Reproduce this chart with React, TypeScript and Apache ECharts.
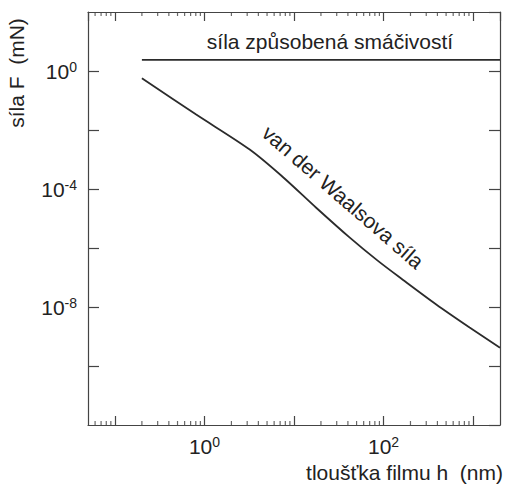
import React, { useEffect, useRef } from "react";
import * as echarts from "echarts";

// ---- data ----
const vdwH = [0.2, 0.8, 3.2, 7.5, 17.7, 41.7, 86, 164, 388, 915, 2000];
const vdwF = [0.566, 0.034, 2.18e-3, 2.56e-4, 2.32e-5, 2.29e-6, 3.72e-7, 8.43e-8, 1.22e-8, 2.02e-9, 4.13e-10];
const wetH = [0.2, 2000];
const wetF = [2.4, 2.4];

const xMin = 0.05;
const xMax = 2000;
const yMin = 1e-12;
const yMax = 1e2;

const xLabelExps = [0, 2];
const yLabelExps = [0, -4, -8];
const minorDecades = [0.01, 0.1, 1, 10, 100, 1000];
const minorMults = [2, 3, 4, 5, 6, 7, 8, 9];

const xTitle = "tloušťka filmu h  (nm)";
const yTitle = "síla F  (mN)";
const wetLabel = "síla způsobená smáčivostí";
const vdwLabel = "van der Waalsova síla";

const FONT = "'Liberation Sans', Arial, Helvetica, sans-serif";
const INK = "#222";
const FRAME = "#444";
const LINE = "#2b2b2b";

const minorTicks: number[] = [];
minorDecades.forEach((d) =>
  minorMults.forEach((m) => {
    const v = d * m;
    if (v > xMin * 1.001 && v < xMax * 0.999) minorTicks.push(v);
  })
);

const expOf = (v: number) => Math.log10(v);

const makeFormatter = (allowed: number[]) => (v: number) => {
  const e = expOf(v);
  const r = Math.round(e);
  if (Math.abs(e - r) > 1e-6) return "";
  if (allowed.indexOf(r) < 0) return "";
  return `{b|10}{s|${r}}`;
};

const rich = {
  b: { fontSize: 21, fontFamily: FONT, color: INK, lineHeight: 22 },
  s: { fontSize: 14, fontFamily: FONT, color: INK, verticalAlign: "top", lineHeight: 14 },
};

export default function App() {
  const ref = useRef<HTMLDivElement>(null);
  useEffect(() => {
    if (!ref.current) return;
    const chart = echarts.init(ref.current, undefined, { renderer: "svg" });
    const axisLine = { show: true, onZero: false, lineStyle: { color: FRAME, width: 1.2 } };
    const noSplit = { show: false };
    chart.setOption({
      animation: false,
      backgroundColor: "#fff",
      grid: { left: 88, right: 6, top: 12, bottom: 65, containLabel: false, outerBoundsMode: "none" },
      xAxis: [
        {
          type: "log",
          logBase: 10,
          min: xMin,
          max: xMax,
          position: "bottom",
          axisLine,
          axisTick: { show: true, inside: true, length: 9, lineStyle: { color: FRAME, width: 1.2 } },
          axisLabel: {
            show: true,
            margin: 10,
            showMinLabel: false,
            showMaxLabel: false,
            formatter: makeFormatter(xLabelExps),
            rich,
          },
          splitLine: noSplit,
          minorTick: { show: false },
          minorSplitLine: { show: false },
        },
        {
          type: "log",
          logBase: 10,
          min: xMin,
          max: xMax,
          position: "top",
          axisLine,
          axisTick: { show: true, inside: true, length: 9, lineStyle: { color: FRAME, width: 1.2 } },
          axisLabel: { show: false },
          splitLine: noSplit,
        },
      ],
      yAxis: [
        {
          type: "log",
          logBase: 100,
          min: yMin,
          max: yMax,
          position: "left",
          axisLine,
          axisTick: { show: true, inside: true, length: 11, lineStyle: { color: FRAME, width: 1.2 } },
          axisLabel: {
            show: true,
            margin: 11,
            showMinLabel: false,
            showMaxLabel: false,
            formatter: makeFormatter(yLabelExps),
            rich,
          },
          splitLine: noSplit,
          minorTick: { show: false },
        },
        {
          type: "log",
          logBase: 100,
          min: yMin,
          max: yMax,
          position: "right",
          axisLine,
          axisTick: { show: true, inside: true, length: 11, lineStyle: { color: FRAME, width: 1.2 } },
          axisLabel: { show: false },
          splitLine: noSplit,
        },
      ],
      series: [
        {
          type: "line",
          name: vdwLabel,
          data: vdwH.map((h, i) => [h, vdwF[i]]),
          showSymbol: false,
          smooth: 0.3,
          lineStyle: { color: LINE, width: 1.8 },
          silent: true,
        },
        {
          type: "line",
          name: wetLabel,
          data: wetH.map((h, i) => [h, wetF[i]]),
          showSymbol: false,
          lineStyle: { color: LINE, width: 1.8 },
          silent: true,
        },
        {
          type: "scatter",
          data: minorTicks.map((v) => [v, yMin]),
          symbol: "rect",
          symbolSize: [1.2, 4],
          symbolOffset: [0, -2],
          itemStyle: { color: FRAME },
          clip: false,
          silent: true,
        },
        {
          type: "scatter",
          data: minorTicks.map((v) => [v, yMax]),
          symbol: "rect",
          symbolSize: [1.2, 4],
          symbolOffset: [0, 2],
          itemStyle: { color: FRAME },
          clip: false,
          silent: true,
        },
      ],
      graphic: [
        {
          type: "text",
          x: 330,
          y: 41,
          style: { text: wetLabel, fontSize: 21, fontFamily: FONT, fill: INK, align: "center", verticalAlign: "middle" },
        },
        {
          type: "text",
          x: 343,
          y: 197,
          rotation: (-41 * Math.PI) / 180,
          style: { text: vdwLabel, fontSize: 21, fontFamily: FONT, fill: INK, align: "center", verticalAlign: "middle" },
        },
        {
          type: "text",
          x: 503,
          y: 472,
          style: { text: xTitle, fontSize: 21, fontFamily: FONT, fill: INK, align: "right", verticalAlign: "middle" },
        },
        {
          type: "text",
          x: 16,
          y: 73,
          rotation: Math.PI / 2,
          style: { text: yTitle, fontSize: 21, fontFamily: FONT, fill: INK, align: "center", verticalAlign: "middle" },
        },
      ],
    });
    return () => chart.dispose();
  }, []);
  return (
    <div
      ref={ref}
      style={{ position: "fixed", left: 0, top: 0, width: 506, height: 490, background: "#fff" }}
    />
  );
}
